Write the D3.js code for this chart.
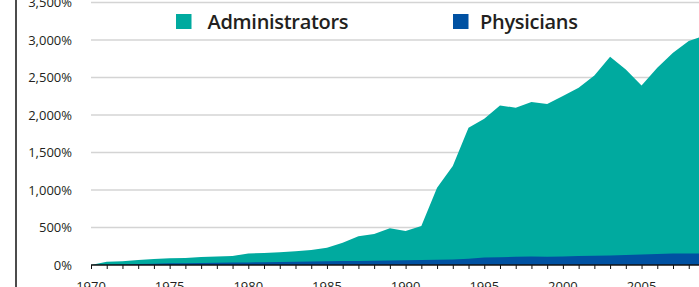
<!DOCTYPE html>
<html>
<head>
<meta charset="utf-8">
<script src="https://cdn.jsdelivr.net/npm/d3@7"></script>
<style>
  html, body { margin: 0; padding: 0; background: #fff; }
  svg { display: block; font-family: "Open Sans", sans-serif; }
</style>
</head>
<body>
<script>
// growth since 1970, in percent
const years = d3.range(1970, 2010);
const administrators = [0, 44, 49, 67, 80, 89, 93, 107, 115, 120,
  155, 160, 169, 182, 200, 231, 298, 382, 413, 489,
  453, 520, 1030, 1320, 1830, 1950, 2128, 2097, 2172, 2146,
  2253, 2364, 2528, 2777, 2608, 2395, 2630, 2830, 2986, 3060];
const physicians = [0, 4, 8, 12, 17, 22, 25, 28, 30, 32,
  35, 38, 41, 44, 46, 49, 52, 55, 58, 60,
  64, 66, 69, 75, 85, 100, 105, 110, 115, 110,
  112, 120, 125, 128, 135, 140, 148, 155, 152, 155];
const yTicks = [0, 500, 1000, 1500, 2000, 2500, 3000, 3500];
const xTicks = [1970, 1975, 1980, 1985, 1990, 1995, 2000, 2005, 2010];
const seriesNames = ["Administrators", "Physicians"];
const colors = ["#00aa9f", "#0051a2"];

const w = 699, h = 287;
const svg = d3.select("body").append("svg").attr("width", w).attr("height", h);

const x = d3.scaleLinear().domain([1970, 2009]).range([91, 91 + 39 * 15.73]);
const y = d3.scaleLinear().domain([0, 3500]).range([265, 2.5]);

// left rule
svg.append("line")
  .attr("x1", 16).attr("x2", 16).attr("y1", 0).attr("y2", h)
  .attr("stroke", "#111").attr("stroke-width", 1.5);

// gridlines
svg.selectAll(".grid").data(yTicks.slice(1)).enter().append("line")
  .attr("x1", 91).attr("x2", w)
  .attr("y1", d => y(d)).attr("y2", d => y(d))
  .attr("stroke", "#d4d4d4").attr("stroke-width", 1.5);

// y labels
svg.selectAll(".ylab").data(yTicks).enter().append("text")
  .attr("x", 72).attr("y", d => y(d))
  .attr("dy", "0.36em")
  .attr("text-anchor", "end")
  .attr("font-size", 13)
  .attr("fill", "#231f20")
  .text(d => d3.format(",")(d) + "%");

// areas
const area = vals => d3.area()
  .x((d, i) => x(years[i]))
  .y0(y(0))
  .y1(d => y(d))(vals);

svg.append("path").attr("d", area(administrators)).attr("fill", colors[0]);
svg.append("path").attr("d", area(physicians)).attr("fill", colors[1]);

// x axis
const xAxis = d3.axisBottom(x)
  .tickValues(years)
  .tickSize(4)
  .tickFormat("");
const gx = svg.append("g").attr("transform", "translate(0," + y(0) + ")").call(xAxis);
gx.select(".domain").attr("stroke", "#111").attr("stroke-width", 1.3).attr("d", "M91,0H" + w);
gx.selectAll(".tick line").attr("stroke", "#111");

svg.selectAll(".xlab").data(xTicks).enter().append("text")
  .attr("x", d => x(d)).attr("y", 291)
  .attr("text-anchor", "middle")
  .attr("font-size", 13)
  .attr("fill", "#231f20")
  .text(d => d);

// legend
const legX = [176, 453];
const leg = svg.selectAll(".leg").data(seriesNames).enter().append("g")
  .attr("transform", (d, i) => "translate(" + legX[i] + ",14)");
leg.append("rect").attr("width", 15.5).attr("height", 15).attr("fill", (d, i) => colors[i]);
leg.append("text")
  .attr("x", (d, i) => i === 0 ? 31.5 : 27)
  .attr("y", 15)
  .attr("font-size", 20)
  .attr("font-weight", 600)
  .attr("letter-spacing", -0.3)
  .attr("fill", "#231f20")
  .text(d => d);
</script>
</body>
</html>
